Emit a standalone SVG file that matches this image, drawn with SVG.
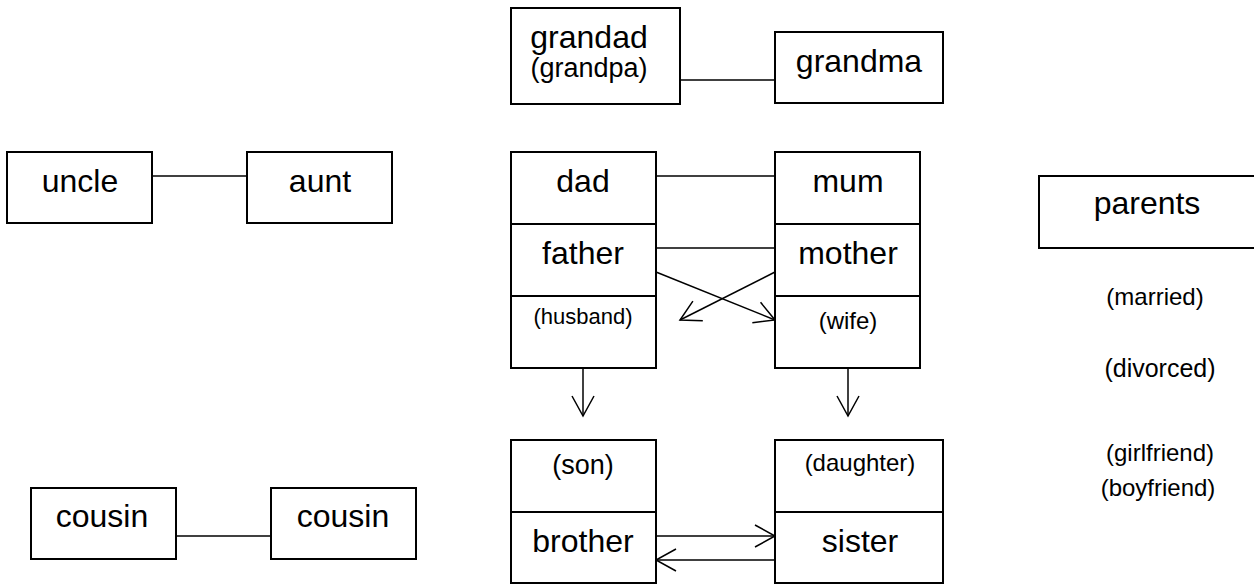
<svg xmlns="http://www.w3.org/2000/svg" width="1254" height="584" viewBox="0 0 1254 584">
<defs>
<style>
.box{fill:#fff;stroke:#000;stroke-width:2}
.div{stroke:#000;stroke-width:2}
.c{stroke:#000;stroke-width:1.5;fill:none}
.a{marker-end:url(#arr)}
text{font-family:"Liberation Sans",Arial,sans-serif;fill:#000;text-anchor:middle}
.big{font-size:32px}
.sm{font-size:24px}
</style>
<marker id="arr" markerUnits="userSpaceOnUse" markerWidth="30" markerHeight="30" refX="0" refY="0" viewBox="-25 -15 30 30" orient="auto" overflow="visible">
<path d="M-20,-11 L0,0 L-20,11" fill="none" stroke="#000" stroke-width="1.5"/>
</marker>
</defs>
<rect width="1254" height="584" fill="#fff"/>
<g id="connectors">
<line class="c" x1="680" y1="80" x2="775" y2="80"/>
<line class="c" x1="152" y1="176" x2="247" y2="176"/>
<line class="c" x1="176" y1="536" x2="271" y2="536"/>
<line class="c" x1="656" y1="176" x2="775" y2="176"/>
<line class="c" x1="656" y1="248" x2="775" y2="248"/>
<line class="c a" x1="656" y1="272" x2="775" y2="320"/>
<line class="c a" x1="775" y1="272" x2="680" y2="320"/>
<line class="c a" x1="583" y1="368" x2="583" y2="416"/>
<line class="c a" x1="848" y1="368" x2="848" y2="416"/>
<line class="c a" x1="656" y1="536" x2="775" y2="536"/>
<line class="c a" x1="775" y1="560" x2="656" y2="560"/>
</g>
<g id="grandad">
<rect class="box" x="511" y="8" width="169" height="96"/>
<text class="big" x="589" y="48">grandad</text>
<text class="sm" x="589" y="77" style="font-size:27px">(grandpa)</text>
</g>
<g id="grandma">
<rect class="box" x="775" y="32" width="168" height="71"/>
<text class="big" x="859" y="72">grandma</text>
</g>
<g id="uncle">
<rect class="box" x="7" y="152" width="145" height="71"/>
<text class="big" x="80" y="192">uncle</text>
</g>
<g id="aunt">
<rect class="box" x="247" y="152" width="145" height="71"/>
<text class="big" x="320" y="192">aunt</text>
</g>
<g id="cousin1">
<rect class="box" x="31" y="488" width="145" height="71"/>
<text class="big" x="102" y="527">cousin</text>
</g>
<g id="cousin2">
<rect class="box" x="271" y="488" width="145" height="71"/>
<text class="big" x="343" y="527">cousin</text>
</g>
<g id="dad">
<rect class="box" x="511" y="152" width="145" height="216"/>
<line class="div" x1="511" y1="224" x2="656" y2="224"/>
<line class="div" x1="511" y1="296" x2="656" y2="296"/>
<text class="big" x="583" y="192">dad</text>
<text class="big" x="583" y="264">father</text>
<text class="sm" x="583" y="324" style="font-size:22px">(husband)</text>
</g>
<g id="mum">
<rect class="box" x="775" y="152" width="145" height="216"/>
<line class="div" x1="775" y1="224" x2="920" y2="224"/>
<line class="div" x1="775" y1="296" x2="920" y2="296"/>
<text class="big" x="848" y="192">mum</text>
<text class="big" x="848" y="264">mother</text>
<text class="sm" x="848" y="329">(wife)</text>
</g>
<g id="son">
<rect class="box" x="511" y="440" width="145" height="143"/>
<line class="div" x1="511" y1="512" x2="656" y2="512"/>
<text class="sm" x="583" y="474" style="font-size:27px">(son)</text>
<text class="big" x="583" y="552">brother</text>
</g>
<g id="daughter">
<rect class="box" x="775" y="440" width="168" height="143"/>
<line class="div" x1="775" y1="512" x2="943" y2="512"/>
<text class="sm" x="860" y="471">(daughter)</text>
<text class="big" x="860" y="552">sister</text>
</g>
<g id="parents">
<rect class="box" x="1039" y="176" width="230" height="72"/>
<text class="big" x="1147" y="214">parents</text>
</g>
<g id="labels">
<text class="sm" x="1155" y="305">(married)</text>
<text class="sm" x="1160" y="377" style="font-size:25px">(divorced)</text>
<text class="sm" x="1160" y="461">(girlfriend)</text>
<text class="sm" x="1158" y="496">(boyfriend)</text>
</g>
</svg>
